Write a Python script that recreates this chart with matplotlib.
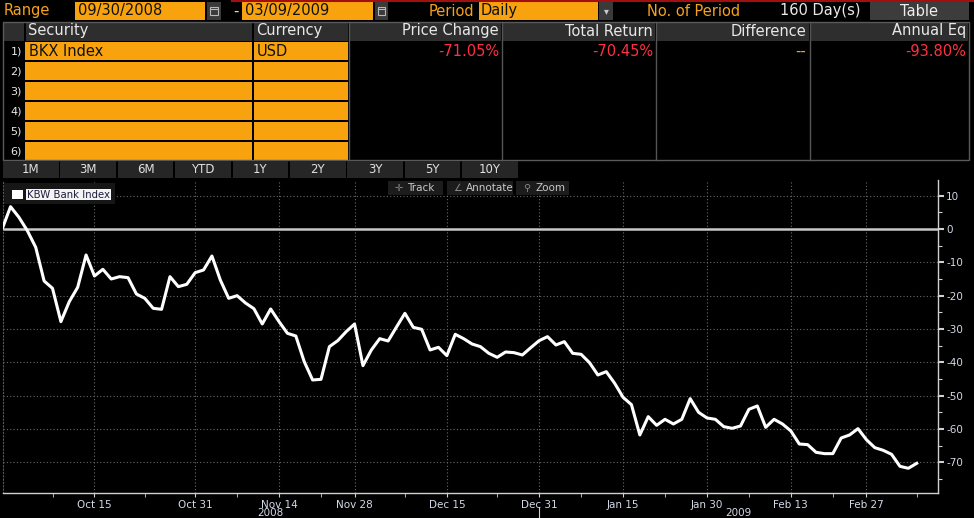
import matplotlib
matplotlib.use('Agg')
import matplotlib.pyplot as plt
from matplotlib.patches import Rectangle
from matplotlib.ticker import FixedLocator, MultipleLocator

plt.rcParams['font.family'] = ['DejaVu Sans']
plt.rcParams['axes.unicode_minus'] = False

# % change of BKX since 09/30/2008, one value per trading day
bkx_change = [
    0.0, 6.7, 3.5, -0.5, -5.5, -15.6, -17.8, -27.8, -21.8, -17.5,
    -7.8, -14.1, -12.1, -15.0, -14.3, -14.6, -19.5, -20.8, -23.8, -24.1,
    -14.3, -17.3, -16.6, -13.1, -12.3, -8.1, -15.3, -20.8, -20.0, -22.2,
    -23.9, -28.5, -24.0, -27.8, -31.3, -32.1, -39.8, -45.3, -45.1, -35.3,
    -33.5, -30.8, -28.5, -41.0, -36.3, -32.9, -33.6, -29.4, -25.3, -29.5,
    -30.1, -36.3, -35.5, -38.0, -31.6, -32.9, -34.5, -35.3, -37.3, -38.5,
    -36.9, -37.1, -37.8, -35.6, -33.5, -32.3, -34.8, -33.8, -37.3, -37.6,
    -40.1, -43.8, -42.8, -46.3, -50.5, -52.7, -61.8, -56.3, -58.9, -57.1,
    -58.5, -57.1, -50.9, -55.0, -56.7, -57.1, -59.3, -59.8, -59.1, -54.1,
    -53.1, -59.5, -57.1, -58.5, -60.6, -64.5, -64.7, -67.0, -67.4, -67.4,
    -62.7, -61.8, -59.9, -63.2, -65.6, -66.4, -67.6, -71.2, -71.8, -70.3,
]
tick_idx = [11, 23, 33, 42, 53, 64, 74, 84, 94, 103]
tick_labels = ['Oct 15', 'Oct 31', 'Nov 14', 'Nov 28', 'Dec 15',
               'Dec 31', 'Jan 15', 'Jan 30', 'Feb 13', 'Feb 27']
minor_idx = [6, 17, 28, 38, 48, 59, 69, 79, 89, 99, 109]
years = ['2008', '2009']
year_span = [(0, 64), (65, 110.5)]
y_ticks = list(range(10, -80, -10))

columns = ['Security', 'Currency', 'Price Change', 'Total Return', 'Difference', 'Annual Eq']
row1 = ['BKX Index', 'USD', '-71.05%', '-70.45%', '--', '-93.80%']
buttons = ['1M', '3M', '6M', 'YTD', '1Y', '2Y', '3Y', '5Y', '10Y']

ORANGE = '#f7a21b'
BOX = '#f8a30e'
RED = '#ff3040'
GRAY = '#2e2e2e'
W, H = 974, 518

fig = plt.figure(figsize=(W / 100, H / 100), dpi=100, facecolor='black')

# ---- chart ----
ax = fig.add_axes([3 / W, (H - 493.3) / H, (937.7 - 3) / W, (493.3 - 180) / H])
ax.set_facecolor('black')
ax.plot(range(len(bkx_change)), bkx_change, color='white', lw=2.2, zorder=3)
ax.axhline(0, color='#c8c8c8', lw=1.8, zorder=2)
ax.set_xlim(0.1, 111.5)
ax.set_ylim(-79.3, 14.7)

ax.xaxis.set_major_locator(FixedLocator(tick_idx))
ax.set_xticklabels(tick_labels)
ax.xaxis.set_minor_locator(FixedLocator(minor_idx))
ax.yaxis.tick_right()
ax.set_yticks(y_ticks)
ax.yaxis.set_minor_locator(MultipleLocator(5))
ax.grid(True, which='major', color='#6a6a6a', ls=(0, (1, 2)), lw=0.8)

ax.spines['top'].set_visible(False)
ax.spines['left'].set_color('#5a5a5a')
ax.spines['left'].set_linestyle((0, (1, 2)))
for s in ('right', 'bottom'):
    ax.spines[s].set_color('#d0d0d0')
    ax.spines[s].set_linewidth(1)

ax.tick_params(axis='x', which='both', colors='#d0d0d0', labelcolor='#d3d9e6',
               labelsize=7.5, length=3, pad=1.5)
ax.tick_params(axis='y', which='major', colors='#d0d0d0', labelcolor='#d3d9e6',
               labelsize=7.5, length=4, width=1.5, pad=2)
ax.tick_params(axis='y', which='minor', colors='#d0d0d0', length=3, width=0.8)

xt = ax.get_xaxis_transform()
for yr, (a, b) in zip(years, year_span):
    ax.text((a + b) / 2, -0.062, yr, transform=xt, ha='center', va='center',
            fontsize=7.5, color='#d3d9e6')
ax.plot([64, 64], [-0.044, -0.08], transform=xt, clip_on=False, color='#d0d0d0', lw=0.8)

# ---- header / panels drawn in pixel coords ----
hdr = fig.add_axes([0, 0, 1, 1])
hdr.set_xlim(0, W)
hdr.set_ylim(H, 0)
hdr.axis('off')
hdr.patch.set_alpha(0)
hdr.set_zorder(5)


def box(x0, y0, x1, y1, fc, ec='none', lw=0):
    hdr.add_patch(Rectangle((x0, y0), x1 - x0, y1 - y0, fc=fc, ec=ec, lw=lw))


def cal_icon(x0):
    box(x0, 2, x0 + 13.5, 20, '#3a3a3a')
    box(x0 + 3, 7, x0 + 10.5, 15, 'none', ec='#b8b8b8', lw=0.8)
    hdr.plot([x0 + 3, x0 + 10.5], [9, 9], color='#b8b8b8', lw=0.8)


hdr.plot([232, W], [0.6, 0.6], color='#a01010', lw=1.5)
hdr.text(4, 11, 'Range', color=ORANGE, fontsize=10.5, va='center')
box(75, 2, 205, 20, BOX)
hdr.text(78, 11, '09/30/2008', color='#111111', fontsize=10.5, va='center')
cal_icon(207)
hdr.text(233, 11, '-', color='#dddddd', fontsize=10.5, va='center')
box(242, 2, 372.5, 20, BOX)
hdr.text(245, 11, '03/09/2009', color='#111111', fontsize=10.5, va='center')
cal_icon(374.5)
hdr.text(474, 11, 'Period', color=ORANGE, fontsize=10.5, va='center', ha='right')
box(479, 2, 597.5, 20, BOX)
hdr.text(481, 11, 'Daily', color='#111111', fontsize=10.5, va='center')
box(599, 2, 613, 20, '#3a3a3a')
hdr.text(606, 11, '\u25be', color='#cccccc', fontsize=7, va='center', ha='center')
hdr.text(647, 11, 'No. of Period', color=ORANGE, fontsize=10.5, va='center')
hdr.text(780, 11, '160 Day(s)', color='#e8e8e8', fontsize=10.5, va='center')
box(870, 2, 968.5, 20, '#3c3c3c')
hdr.text(919, 11, 'Table', color='#eeeeee', fontsize=10.5, va='center', ha='center')

# table
col_x = [25, 253, 348.5, 502, 656, 809.5, 969]
box(3, 22, 24, 40.5, GRAY)
for i, name in enumerate(columns):
    box(col_x[i] + 1, 22, col_x[i + 1] - 1, 40.5, GRAY)
    if i < 2:
        hdr.text(col_x[i] + 3, 31, name, color='#e8e8e8', fontsize=10.5, va='center')
    else:
        hdr.text(col_x[i + 1] - 3, 31, name, color='#e8e8e8', fontsize=10.5,
                 va='center', ha='right')
for k in range(6):
    top = 41.5 + 20 * k
    box(25, top, 252, top + 18.5, BOX)
    box(254, top, 347.5, top + 18.5, BOX)
    hdr.text(22, top + 9.5, f'{k + 1})', color='#e8e8e8', fontsize=8,
             va='center', ha='right')
for i, val in enumerate(row1):
    if i < 2:
        hdr.text(col_x[i] + 4, 51, val, color='#111111', fontsize=10.5, va='center')
    else:
        c = ORANGE if val == '--' else RED
        hdr.text(col_x[i + 1] - 3, 51, val, color=c, fontsize=10.5, va='center', ha='right')
for x in col_x[2:-1]:
    hdr.plot([x, x], [22, 159.5], color='#555555', lw=1)
box(3, 21.5, 969, 159.5, 'none', ec='#5a5a5a', lw=1)

# period buttons
for i, b in enumerate(buttons):
    x0 = 3 + 57.4 * i
    box(x0, 161, x0 + 55.5, 177.7, '#262626')
    hdr.text(x0 + 27.7, 169.5, b, color='#e0e0e0', fontsize=8.5, va='center', ha='center')

# chart legend & toolbar
box(4, 183, 115, 204, '#161616')
box(12, 190, 23, 199, 'white')
box(26, 189, 111, 200, '#f4f4f4')
hdr.text(27, 194.5, 'KBW Bank Index', color='#1c1c3c', fontsize=7.3, va='center')
for x0, x1, icon, label in [(388, 443, '\u271b', 'Track'),
                            (447, 513, '\u2220', 'Annotate'),
                            (516, 569, '\u26b2', 'Zoom')]:
    box(x0, 181, x1, 195, '#1c1c1c')
    hdr.text(x0 + 11, 188, icon, color='#888888', fontsize=7, va='center', ha='center')
    hdr.text(x0 + 19, 188, label, color='#c8c8c8', fontsize=7.5, va='center')

fig.savefig('out.png', dpi=100, facecolor='black')
